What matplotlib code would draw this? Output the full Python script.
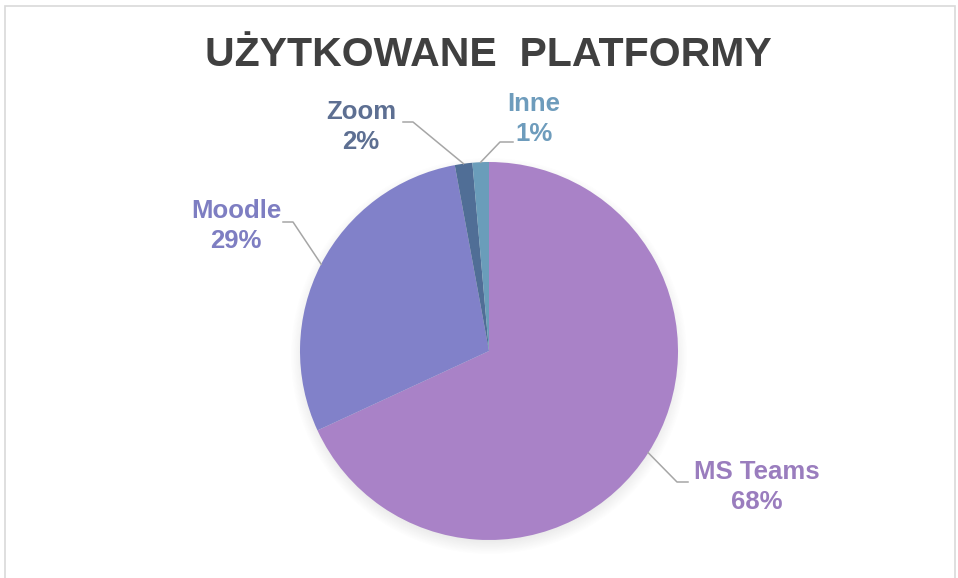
import numpy as np
import matplotlib
matplotlib.use('Agg')
import matplotlib.pyplot as plt
from matplotlib.patches import Rectangle

# dane wykresu
platformy = ['MS Teams', 'Moodle', 'Zoom', 'Inne']
udzial = [68.1, 29.0, 1.5, 1.4]
kolory = ['#A982C7', '#8181C9', '#506E96', '#6A9DBA']
kolory_etykiet = ['#9A7DBE', '#7E7EC2', '#5D6F92', '#6E9CBC']

W, H = 958, 578
plt.rcParams['font.family'] = ['Liberation Sans', 'DejaVu Sans']

fig = plt.figure(figsize=(W / 100, H / 100), dpi=100)
ax = fig.add_axes([0, 0, 1, 1])

# srodek i promien kola (piksele, os y w gore)
cx, cy, r = 489, H - 351, 189

# miekki cien pod kolem
gx = np.arange(cx - r - 40, cx + r + 40)
gy = np.arange(cy - r - 40, cy + r + 40)
XX, YY = np.meshgrid(gx, gy)
d = np.hypot(XX - cx, YY - (cy - 5))
alfa = np.clip((r + 10 - d) / 22, 0, 1) * 0.22
cien = np.zeros(XX.shape + (4,))
cien[..., :3] = 0.45
cien[..., 3] = alfa
ax.imshow(cien, extent=(gx[0], gx[-1], gy[0], gy[-1]), origin='lower',
          interpolation='bilinear', zorder=0)

wedges, _ = ax.pie(udzial, colors=kolory, startangle=90, counterclock=False,
                   center=(cx, cy), radius=r,
                   wedgeprops=dict(linewidth=0))
for w in wedges:
    w.set_zorder(2)

# polozenie etykiet i zalamania linii odniesienia (piksele obrazu)
pozycje_etykiet = [(757, 487), (236, 226), (361, 127), (534, 119)]
zalamania = [[(677, 482), (688, 482)],
             [(293, 222), (283, 222)],
             [(413, 122), (403, 122)],
             [(500, 142), (513, 142)]]

suma = sum(udzial)
narastajaco = 0
for i, (nazwa, wart) in enumerate(zip(platformy, udzial)):
    srodek = narastajaco + wart / 2
    narastajaco += wart
    kat = np.deg2rad(90 - 360 * srodek / suma)
    px, py = cx + r * np.cos(kat), cy + r * np.sin(kat)
    xs = [px] + [p[0] for p in zalamania[i]]
    ys = [py] + [H - p[1] for p in zalamania[i]]
    ax.plot(xs, ys, color='#A6A6A6', linewidth=1.1, zorder=3)
    tx, ty = pozycje_etykiet[i]
    ax.text(tx, H - ty, f'{nazwa}\n{round(100 * wart / suma)}%',
            ha='center', va='center', fontsize=18.5, fontweight='bold',
            color=kolory_etykiet[i], linespacing=1.35, zorder=4)

ax.text(488, H - 55, 'UŻYTKOWANE  PLATFORMY', ha='center', va='center',
        fontsize=29.5, fontweight='bold', color='#404040')

# ramka wykresu
ax.add_patch(Rectangle((5, -20), 950, H - 6 + 20, fill=False,
                       edgecolor='#D9D9D9', linewidth=1.2, zorder=1))

ax.set_xlim(0, W)
ax.set_ylim(0, H)
ax.set_aspect('equal', adjustable='box')
ax.axis('off')

fig.savefig('out.png', dpi=100)
